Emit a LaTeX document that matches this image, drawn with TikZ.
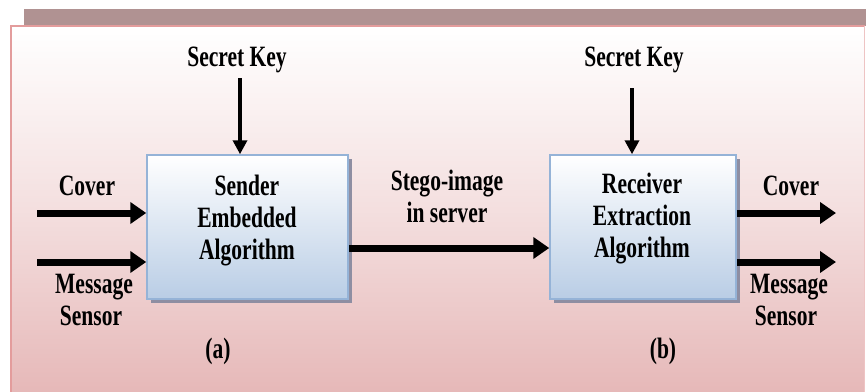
\documentclass[tikz,border=0pt]{standalone}
\usepackage{fontspec}
\newfontfamily\lbl[FakeStretch=0.73]{Liberation Serif}
\usetikzlibrary{arrows.meta}
\definecolor{bandc}{HTML}{B09292}
\definecolor{framec}{HTML}{E39C9C}
\definecolor{pinkbot}{HTML}{E6B8B8}
\definecolor{boxedge}{HTML}{95B3D7}
\definecolor{boxbot}{HTML}{B9CDE5}
\definecolor{boxshadow}{HTML}{8E8EA2}
\tikzset{
  txt/.style={font=\lbl\bfseries\fontsize{29.5}{32}\selectfont, inner sep=0pt, anchor=base},
  algbox/.style={draw=boxedge, line width=1.5pt, top color=white, bottom color=boxbot,
                 minimum width=201pt, minimum height=144pt, inner sep=0pt},
  fatarrow/.style={line width=7pt, -{Triangle[length=16pt,width=21pt]}},
  keyarrow/.style={line width=4pt, -{Triangle[length=14pt,width=14pt]}}
}
\begin{document}
\begin{tikzpicture}[x=1pt,y=-1pt]
\useasboundingbox (0,0) rectangle (866,391);
\clip (0,0) rectangle (866,391);
% background
\fill[bandc] (24,9) rectangle (866,26);
\shade[top color=white, bottom color=pinkbot, middle color=pinkbot!45!white] (11,26) rectangle (864.5,393);
\draw[framec, line width=2.5pt] (11,393) -- (11,26) -- (864.5,26);
\draw[framec!60!white, line width=1pt] (864.5,26) -- (864.5,393);
% boxes with shadows
\fill[boxshadow] (150.5,158.5) rectangle (351.5,302.5);
\node[algbox] (snd) at (247.5,227) {};
\fill[boxshadow] (553.5,158.5) rectangle (739.5,302.5);
\node[algbox, minimum width=186pt] (rcv) at (643,227) {};
% box texts
\node[txt] (s1) at (247,195) {Sender};
\node[txt] (s2) at (247,227) {Embedded};
\node[txt] (s3) at (247,259) {Algorithm};
\node[txt] (r1) at (642,193) {Receiver};
\node[txt] (r2) at (642,225) {Extraction};
\node[txt] (r3) at (642,257) {Algorithm};
% secret keys
\node[txt] (k1) at (237,66) {Secret Key};
\node[txt] (k2) at (634,66) {Secret Key};
\coordinate (k1s) at (240,78);
\coordinate (k2s) at (632,88);
\draw[keyarrow] (k1s) -- (k1s |- snd.north);
\draw[keyarrow] (k2s) -- (k2s |- rcv.north);
% left inputs
\node[txt] (cin) at (87,195) {Cover};
\node[txt] (min) at (94,293) {Message};
\node[txt] (sin) at (91,325) {Sensor};
\coordinate (cinS) at (37,213);
\coordinate (minS) at (37,262);
\draw[fatarrow] (cinS) -- (cinS -| snd.west);
\draw[fatarrow] (minS) -- (minS -| snd.west);
% stego
\node[txt] (st1) at (447,190) {Stego-image};
\node[txt] (st2) at (447,222) {in server};
\coordinate (stS) at (351,248);
\draw[fatarrow] (stS -| snd.east) -- (stS -| rcv.west);
% right outputs
\node[txt] (cout) at (791,195) {Cover};
\node[txt] (mout) at (789,293) {Message};
\node[txt] (sout) at (786,325) {Sensor};
\coordinate (coE) at (836,213);
\coordinate (moE) at (836,262);
\draw[fatarrow] (coE -| rcv.east) -- (coE);
\draw[fatarrow] (moE -| rcv.east) -- (moE);
% captions
\node[txt] (ca) at (218,358) {(a)};
\node[txt] (cb) at (663,358) {(b)};
\end{tikzpicture}
\end{document}
